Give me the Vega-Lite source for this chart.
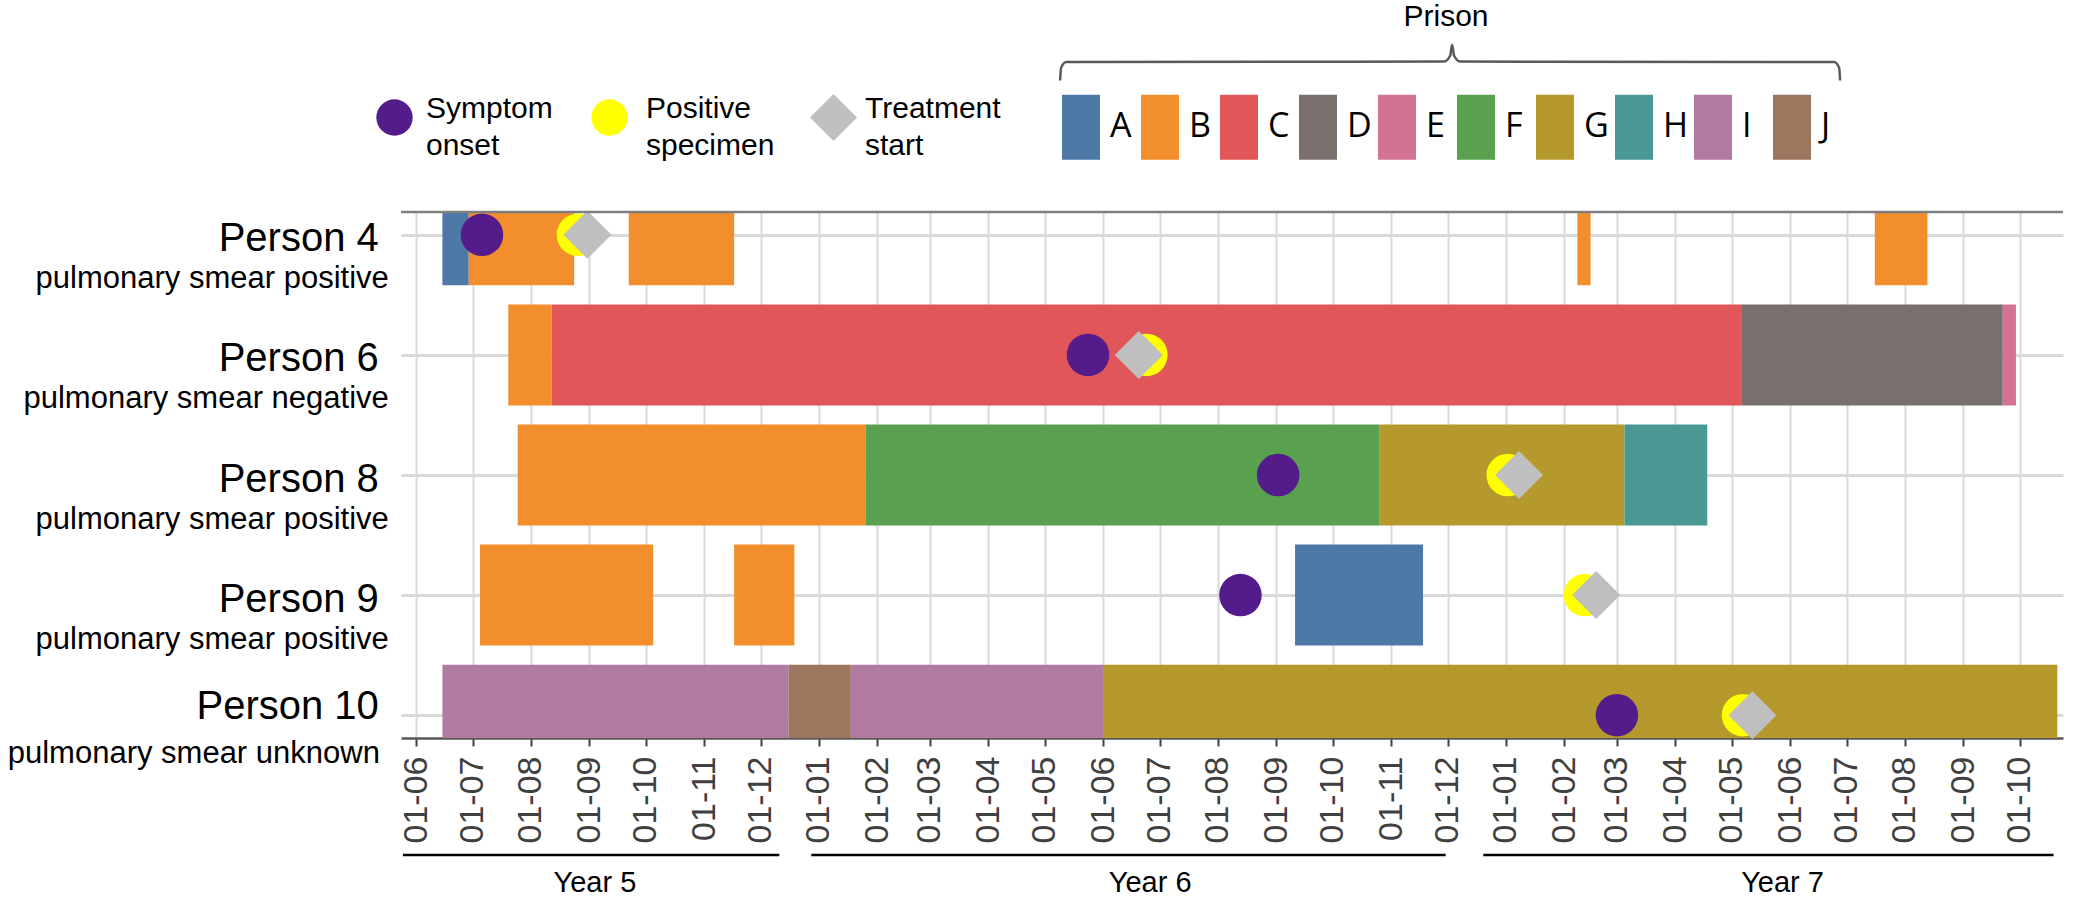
{
  "$schema": "https://vega.github.io/schema/vega-lite/v6.json",
  "width": 1662,
  "height": 526,
  "autosize": "none",
  "padding": {"left": 401, "top": 212, "right": 12, "bottom": 159},
  "background": "white",
  "config": {
    "font": "Liberation Sans",
    "view": {"stroke": null},
    "style": {"guide-label": {"lineHeight": 37}}
  },
  "datasets": {
    "stays": [
      {"case": "Person 4", "prison": "A", "start": "2005-06-15", "end": "2005-06-29"},
      {"case": "Person 4", "prison": "B", "start": "2005-06-29", "end": "2005-08-24"},
      {"case": "Person 4", "prison": "B", "start": "2005-09-22", "end": "2005-11-17"},
      {"case": "Person 4", "prison": "B", "start": "2007-02-08", "end": "2007-02-15"},
      {"case": "Person 4", "prison": "B", "start": "2007-07-16", "end": "2007-08-13"},
      {"case": "Person 6", "prison": "B", "start": "2005-07-20", "end": "2005-08-12"},
      {"case": "Person 6", "prison": "C", "start": "2005-08-12", "end": "2007-05-06"},
      {"case": "Person 6", "prison": "D", "start": "2007-05-06", "end": "2007-09-22"},
      {"case": "Person 6", "prison": "E", "start": "2007-09-22", "end": "2007-09-29"},
      {"case": "Person 8", "prison": "B", "start": "2005-07-25", "end": "2006-01-26"},
      {"case": "Person 8", "prison": "F", "start": "2006-01-26", "end": "2006-10-26"},
      {"case": "Person 8", "prison": "G", "start": "2006-10-26", "end": "2007-03-05"},
      {"case": "Person 8", "prison": "H", "start": "2007-03-05", "end": "2007-04-18"},
      {"case": "Person 9", "prison": "B", "start": "2005-07-05", "end": "2005-10-05"},
      {"case": "Person 9", "prison": "B", "start": "2005-11-17", "end": "2005-12-19"},
      {"case": "Person 9", "prison": "A", "start": "2006-09-11", "end": "2006-11-18"},
      {"case": "Person 10", "prison": "I", "start": "2005-06-15", "end": "2005-12-16"},
      {"case": "Person 10", "prison": "J", "start": "2005-12-16", "end": "2006-01-18"},
      {"case": "Person 10", "prison": "I", "start": "2006-01-18", "end": "2006-06-01"},
      {"case": "Person 10", "prison": "G", "start": "2006-06-01", "end": "2007-10-21"}
    ],
    "events": [
      {"case": "Person 4", "event": "Symptom onset", "date": "2005-07-06"},
      {"case": "Person 4", "event": "Positive specimen", "date": "2005-08-26"},
      {"case": "Person 4", "event": "Treatment start", "date": "2005-08-31"},
      {"case": "Person 6", "event": "Symptom onset", "date": "2006-05-24"},
      {"case": "Person 6", "event": "Positive specimen", "date": "2006-06-24"},
      {"case": "Person 6", "event": "Treatment start", "date": "2006-06-20"},
      {"case": "Person 8", "event": "Symptom onset", "date": "2006-09-02"},
      {"case": "Person 8", "event": "Positive specimen", "date": "2007-01-02"},
      {"case": "Person 8", "event": "Treatment start", "date": "2007-01-08"},
      {"case": "Person 9", "event": "Symptom onset", "date": "2006-08-13"},
      {"case": "Person 9", "event": "Positive specimen", "date": "2007-02-12"},
      {"case": "Person 9", "event": "Treatment start", "date": "2007-02-18"},
      {"case": "Person 10", "event": "Symptom onset", "date": "2007-03-01"},
      {"case": "Person 10", "event": "Positive specimen", "date": "2007-05-07"},
      {"case": "Person 10", "event": "Treatment start", "date": "2007-05-12"}
    ],
    "years": [
      {"year": "Year 5", "start": "2005-05-25", "end": "2005-12-11", "mid": "2005-09-04"},
      {"year": "Year 6", "start": "2005-12-28", "end": "2006-11-30", "mid": "2006-06-26"},
      {"year": "Year 7", "start": "2006-12-20", "end": "2007-10-19", "mid": "2007-05-28"}
    ],
    "brace": [
      {"date": "2006-05-09T04:00:00Z", "level": -0.250},
      {"date": "2006-05-09T17:00:00Z", "level": -0.274},
      {"date": "2006-05-12T09:00:00Z", "level": -0.285},
      {"date": "2006-11-29T05:00:00Z", "level": -0.286},
      {"date": "2006-12-02T10:00:00Z", "level": -0.297},
      {"date": "2006-12-03T11:00:00Z", "level": -0.318},
      {"date": "2006-12-04T12:00:00Z", "level": -0.297},
      {"date": "2006-12-07T17:00:00Z", "level": -0.286},
      {"date": "2007-06-24T10:00:00Z", "level": -0.285},
      {"date": "2007-06-27T02:00:00Z", "level": -0.274},
      {"date": "2007-06-27T14:00:00Z", "level": -0.250}
    ]
  },
  "resolve": {
    "scale": {"y": "independent", "shape": "independent"},
    "axis": {"x": "independent"}
  },
  "layer": [
    {
      "data": {"name": "stays"},
      "mark": {"type": "bar", "size": 101, "clip": true},
      "encoding": {
        "x": {
          "field": "start", "type": "temporal", "title": null,
          "scale": {"type": "utc", "domain": [{"year": 2005, "month": 5, "date": 24, "utc": true}, {"year": 2007, "month": 10, "date": 24, "utc": true}]},
          "axis": {
            "orient": "bottom", "format": "%d-%m", "tickCount": {"interval": "month", "step": 1},
            "labelAngle": 270, "labelFontSize": 34, "labelColor": "#404040", "labelPadding": 10,
            "labelOverlap": false, "labelFlush": false,
            "tickSize": 8, "tickWidth": 2, "tickColor": "#404040",
            "domainColor": "#595959", "domainWidth": 2.5,
            "grid": true, "gridColor": "#d9d9d9", "gridWidth": 2
          }
        },
        "x2": {"field": "end"},
        "y": {
          "field": "case", "type": "nominal", "title": null,
          "scale": {"type": "point", "domain": ["Person 4", "Person 6", "Person 8", "Person 9", "Person 10"], "padding": 0.19},
          "axis": {
            "orient": "left", "domain": false, "ticks": false, "tickSize": 0,
            "grid": true, "gridColor": "#d9d9d9", "gridWidth": 3,
            "labelFontSize": 40, "labelColor": "#000000", "labelAlign": "right", "labelBaseline": "alphabetic",
            "labelOffset": {"condition": {"test": "datum.value === 'Person 10'", "value": 3}, "value": 16},
            "labelPadding": 22.7, "labelLimit": 500
          }
        },
        "fill": {
          "field": "prison", "type": "nominal",
          "scale": {
            "domain": ["A", "B", "C", "D", "E", "F", "G", "H", "I", "J"],
            "range": ["#4E79A7", "#F28E2B", "#E15759", "#79706E", "#D37295", "#59A14F", "#B6992D", "#499894", "#B07AA1", "#9D7660"]
          },
          "legend": {
            "orient": "none", "legendX": 661, "legendY": -210, "padding": 0,
            "direction": "horizontal", "columns": 10, "gridAlign": "all", "columnPadding": 5,
            "symbolType": "M-1,-1.71H1V1.71H-1Z", "symbolSize": 1444, "symbolStrokeWidth": 0, "symbolOpacity": 1,
            "labelFont": "Open Sans", "labelFontSize": 34, "labelOffset": 10, "labelColor": "#000000",
            "title": "Prison", "titleOrient": "top", "titleAnchor": "middle", "titleFont": "Liberation Sans",
            "titleFontSize": 30, "titleFontWeight": "normal", "titleColor": "#000000", "titlePadding": 76
          }
        }
      }
    },
    {
      "data": {"name": "events"},
      "transform": [{"filter": "datum.event === 'Symptom onset'"}],
      "mark": {"type": "point", "filled": true, "fill": "#541b8b", "opacity": 1, "size": 1810, "strokeWidth": 0},
      "encoding": {
        "x": {
          "field": "date", "type": "temporal",
          "scale": {"type": "utc", "domain": [{"year": 2005, "month": 5, "date": 24, "utc": true}, {"year": 2007, "month": 10, "date": 24, "utc": true}]},
          "axis": null
        },
        "y": {
          "field": "case", "type": "nominal", "title": null,
          "scale": {"type": "point", "domain": ["Person 4", "Person 6", "Person 8", "Person 9", "Person 10"], "padding": 0.19},
          "axis": {
            "orient": "left", "domain": false, "ticks": false, "tickSize": 0, "grid": false,
            "labelExpr": "datum.value === 'Person 6' ? 'pulmonary smear negative' : datum.value === 'Person 10' ? 'pulmonary smear unknown' : 'pulmonary smear positive'",
            "labelFontSize": 31, "labelColor": "#000000", "labelAlign": "right", "labelBaseline": "alphabetic",
            "labelOffset": {"condition": {"test": "datum.value === 'Person 10'", "value": 47}, "value": 53},
            "labelPadding": {"condition": {"test": "datum.value === 'Person 10'", "value": 21.6}, "value": 12.7},
            "labelLimit": 600
          }
        },
        "shape": {
          "field": "event", "type": "nominal", "scale": {"range": ["circle"]},
          "legend": {
            "orient": "none", "legendX": -25, "legendY": -113, "padding": 0, "title": null,
            "symbolFillColor": "#541b8b", "symbolStrokeWidth": 0, "symbolOpacity": 1, "symbolSize": 1320,
            "labelExpr": "split(datum.label, ' ')", "labelBaseline": "alphabetic", "labelFontSize": 30, "labelColor": "#000000", "labelOffset": 13, "labelLimit": 400
          }
        }
      }
    },
    {
      "data": {"name": "events"},
      "transform": [{"filter": "datum.event === 'Positive specimen'"}],
      "mark": {"type": "point", "filled": true, "fill": "#ffff00", "opacity": 1, "size": 1810, "strokeWidth": 0},
      "encoding": {
        "x": {
          "field": "date", "type": "temporal",
          "scale": {"type": "utc", "domain": [{"year": 2005, "month": 5, "date": 24, "utc": true}, {"year": 2007, "month": 10, "date": 24, "utc": true}]},
          "axis": null
        },
        "y": {
          "field": "case", "type": "nominal",
          "scale": {"type": "point", "domain": ["Person 4", "Person 6", "Person 8", "Person 9", "Person 10"], "padding": 0.19},
          "axis": null
        },
        "shape": {
          "field": "event", "type": "nominal", "scale": {"range": ["circle"]},
          "legend": {
            "orient": "none", "legendX": 190, "legendY": -113, "padding": 0, "title": null,
            "symbolFillColor": "#ffff00", "symbolStrokeWidth": 0, "symbolOpacity": 1, "symbolSize": 1320,
            "labelExpr": "split(datum.label, ' ')", "labelBaseline": "alphabetic", "labelFontSize": 30, "labelColor": "#000000", "labelOffset": 18, "labelLimit": 400
          }
        }
      }
    },
    {
      "data": {"name": "events"},
      "transform": [{"filter": "datum.event === 'Treatment start'"}],
      "mark": {"type": "point", "filled": true, "fill": "#bfbfbf", "opacity": 1, "size": 2304, "strokeWidth": 0},
      "encoding": {
        "x": {
          "field": "date", "type": "temporal",
          "scale": {"type": "utc", "domain": [{"year": 2005, "month": 5, "date": 24, "utc": true}, {"year": 2007, "month": 10, "date": 24, "utc": true}]},
          "axis": null
        },
        "y": {
          "field": "case", "type": "nominal",
          "scale": {"type": "point", "domain": ["Person 4", "Person 6", "Person 8", "Person 9", "Person 10"], "padding": 0.19},
          "axis": null
        },
        "shape": {
          "field": "event", "type": "nominal", "scale": {"range": ["diamond"]},
          "legend": {
            "orient": "none", "legendX": 409, "legendY": -118, "padding": 0, "title": null,
            "symbolFillColor": "#bfbfbf", "symbolStrokeWidth": 0, "symbolOpacity": 1, "symbolSize": 2209,
            "labelExpr": "split(datum.label, ' ')", "labelBaseline": "alphabetic", "labelFontSize": 30, "labelColor": "#000000", "labelOffset": 8, "labelLimit": 400
          }
        }
      }
    },
    {
      "data": {"values": [{}]},
      "mark": {"type": "rule", "color": "#7f7f7f", "strokeWidth": 2.5},
      "encoding": {
        "y": {"datum": 0, "type": "quantitative", "scale": {"domain": [0, 1], "reverse": true}, "axis": null}
      }
    },
    {
      "data": {"name": "years"},
      "mark": {"type": "rule", "color": "#000000", "strokeWidth": 2.5},
      "encoding": {
        "x": {
          "field": "start", "type": "temporal",
          "scale": {"type": "utc", "domain": [{"year": 2005, "month": 5, "date": 24, "utc": true}, {"year": 2007, "month": 10, "date": 24, "utc": true}]},
          "axis": null
        },
        "x2": {"field": "end"},
        "y": {"datum": 1.2224, "type": "quantitative", "scale": {"domain": [0, 1], "reverse": true}, "axis": null}
      }
    },
    {
      "data": {"name": "years"},
      "mark": {"type": "text", "fontSize": 29, "baseline": "alphabetic", "align": "center", "color": "#000000"},
      "encoding": {
        "x": {
          "field": "mid", "type": "temporal",
          "scale": {"type": "utc", "domain": [{"year": 2005, "month": 5, "date": 24, "utc": true}, {"year": 2007, "month": 10, "date": 24, "utc": true}]},
          "axis": null
        },
        "y": {"datum": 1.2922, "type": "quantitative", "scale": {"domain": [0, 1], "reverse": true}, "axis": null},
        "text": {"field": "year"}
      }
    },
    {
      "data": {"name": "brace"},
      "mark": {"type": "line", "interpolate": "monotone", "color": "#595959", "strokeWidth": 2.5},
      "encoding": {
        "x": {
          "field": "date", "type": "temporal",
          "scale": {"type": "utc", "domain": [{"year": 2005, "month": 5, "date": 24, "utc": true}, {"year": 2007, "month": 10, "date": 24, "utc": true}]},
          "axis": null
        },
        "y": {"field": "level", "type": "quantitative", "scale": {"domain": [0, 1], "reverse": true}, "axis": null}
      }
    }
  ]
}
